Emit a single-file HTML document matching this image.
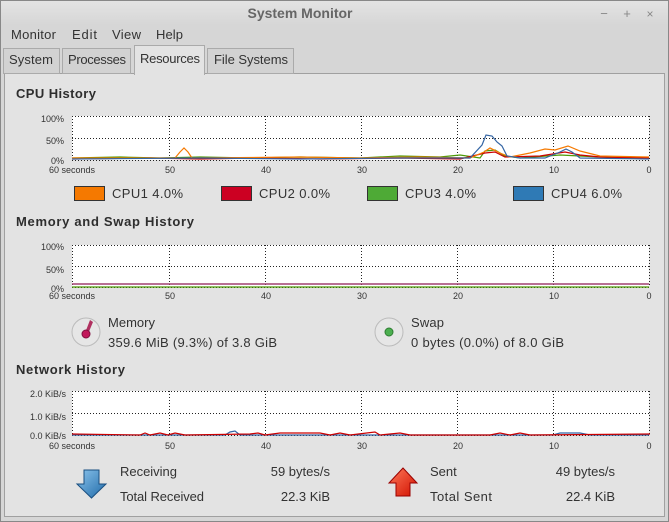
<!DOCTYPE html>
<html><head><meta charset="utf-8"><style>
html,body{margin:0;padding:0;width:669px;height:522px;overflow:hidden;background:#d9d9d9}
svg{display:block;font-family:"Liberation Sans","DejaVu Sans",sans-serif}
</style></head><body>
<svg width="669" height="522" viewBox="0 0 669 522" xmlns="http://www.w3.org/2000/svg" xml:space="preserve">
<defs>
<linearGradient id="tb" x1="0" y1="0" x2="0" y2="1"><stop offset="0" stop-color="#e4e4e4"/><stop offset="1" stop-color="#d6d6d6"/></linearGradient>
<linearGradient id="down" x1="0" y1="0" x2="1" y2="1"><stop offset="0" stop-color="#8cc4ec"/><stop offset="1" stop-color="#1f6aa8"/></linearGradient>
<linearGradient id="up" x1="0" y1="0" x2="1" y2="1"><stop offset="0" stop-color="#ff7a5a"/><stop offset="1" stop-color="#d01000"/></linearGradient>
</defs>
<rect x="0" y="0" width="669" height="522" fill="#d6d6d6"/>
<rect x="0" y="0" width="669" height="25" fill="url(#tb)"/>
<rect x="0.5" y="0.5" width="668" height="521" fill="none" stroke="#888"/>
<text x="300" y="18" font-size="14" font-weight="bold" fill="#666" text-anchor="middle">System Monitor</text>
<text x="604" y="18" font-size="13" fill="#888" text-anchor="middle">−</text>
<text x="627" y="18" font-size="13" fill="#888" text-anchor="middle">+</text>
<text x="650" y="18" font-size="12" fill="#888" text-anchor="middle">×</text>
<g font-size="13" fill="#333">
<text x="11" y="39" textLength="45">Monitor</text><text x="72" y="39" textLength="25">Edit</text><text x="112" y="39" textLength="29">View</text><text x="156" y="39" textLength="27">Help</text>
</g>
<rect x="4.5" y="73.5" width="660" height="443" fill="#e3e3e3" stroke="#a0a0a0"/>
<g font-size="13" fill="#333">
<rect x="3.5" y="48.5" width="56" height="25" fill="#d2d2d2" stroke="#aaa"/><text x="9" y="64" textLength="44">System</text>
<rect x="62.5" y="48.5" width="68" height="25" fill="#d2d2d2" stroke="#aaa"/><text x="68" y="64" textLength="58">Processes</text>
<rect x="134.5" y="45.5" width="70" height="29" fill="#e3e3e3" stroke="#aaa"/><rect x="135" y="72" width="69" height="3" fill="#e3e3e3"/><text x="140" y="63" textLength="60">Resources</text>
<rect x="207.5" y="48.5" width="86" height="25" fill="#d2d2d2" stroke="#aaa"/><text x="214" y="64" textLength="74">File Systems</text>
</g>
<g font-size="13" font-weight="bold" fill="#2e2e2e">
<text x="16" y="98" textLength="80">CPU History</text>
<text x="16" y="226" textLength="178">Memory and Swap History</text>
<text x="16" y="374" textLength="109">Network History</text>
</g>
<g fill="#fff"><rect x="72" y="116" width="577" height="44"/><rect x="72" y="245" width="577" height="42"/><rect x="72" y="391" width="577" height="44"/></g>
<g stroke="#222" stroke-width="1" stroke-dasharray="1,2" fill="none">
<path d="M72 116.5H649M72 138.5H649M72 160.5H649 M72.5 116V160M169.5 116V160M265.5 116V160M361.5 116V160M457.5 116V160M553.5 116V160M649.5 116V160"/>
<path d="M72 245.5H649M72 266.5H649M72 287.5H649 M72.5 245V287M169.5 245V287M265.5 245V287M361.5 245V287M457.5 245V287M553.5 245V287M649.5 245V287"/>
<path d="M72 391.5H649M72 413.5H649M72 435.5H649 M72.5 391V435M169.5 391V435M265.5 391V435M361.5 391V435M457.5 391V435M553.5 391V435M649.5 391V435"/>
</g>
<g fill="none" stroke-width="1.2">
<path stroke="#4e9a06" d="M72 158 L120 157 L160 158 L200 157 L250 158 L300 157 L360 158 L400 156 L440 157 L460 155 L480 158 L485 151 L495 150 L505 156 L520 158 L560 155 L580 156 L600 157 L620 158 L649 158"/>
<path stroke="#cc0000" d="M72 159 L150 158 L200 159 L260 158 L320 159 L400 158 L460 159 L485 153 L495 152 L505 157 L540 156 L565 152 L580 155 L600 157 L649 158"/>
<path stroke="#f57900" d="M72 158 L175 158 L180 152 L184 148 L188 152 L192 158 L300 157 L360 158 L420 157 L470 158 L484 152 L490 148 L500 153 L510 157 L530 153 L545 149 L555 150 L568 146 L580 151 L600 156 L649 157"/>
<path stroke="#3465a4" d="M72 159 L200 158 L300 159 L400 158 L470 158 L482 145 L486 135 L492 136 L497 142 L502 146 L507 156 L520 158 L545 158 L560 152 L566 149 L572 152 L580 158 L649 159"/>
</g>
<path d="M72 284H649" stroke="#a04070" stroke-width="1.5"/>
<path d="M72 287H649" stroke="#4e9a06" stroke-width="1.2"/>
<g fill="none" stroke-width="1.2">
<path stroke="#3465a4" d="M72 435 L225 435 L230 432 L235 431 L240 435 L553 435 L560 433 L580 433 L590 435 L649 435"/>
<path stroke="#cc0000" d="M72 434 L140 435 L145 433 L150 435 L160 433 L168 435 L175 433 L185 435 L250 434 L258 433 L265 435 L280 433 L320 433 L330 435 L340 433 L350 435 L375 432 L380 435 L400 433 L410 435 L450 435 L490 435 L500 433 L510 435 L520 433 L530 435 L650 434"/>
</g>
<g font-size="9" fill="#333" text-anchor="end">
<text x="64" y="122">100%</text><text x="64" y="144">50%</text><text x="64" y="164">0%</text>
<text x="64" y="250">100%</text><text x="64" y="273">50%</text><text x="64" y="292">0%</text>
<text x="66" y="397">2.0 KiB/s</text><text x="66" y="420">1.0 KiB/s</text><text x="66" y="439">0.0 KiB/s</text>
</g>
<g font-size="9" fill="#333" text-anchor="middle">
<text x="72" y="173">60 seconds</text><text x="170" y="173">50</text><text x="266" y="173">40</text><text x="362" y="173">30</text><text x="458" y="173">20</text><text x="554" y="173">10</text><text x="649" y="173">0</text>
<text x="72" y="299">60 seconds</text><text x="170" y="299">50</text><text x="266" y="299">40</text><text x="362" y="299">30</text><text x="458" y="299">20</text><text x="554" y="299">10</text><text x="649" y="299">0</text>
<text x="72" y="449">60 seconds</text><text x="170" y="449">50</text><text x="266" y="449">40</text><text x="362" y="449">30</text><text x="458" y="449">20</text><text x="554" y="449">10</text><text x="649" y="449">0</text>
</g>
<g stroke="#333" stroke-width="1">
<rect x="74.5" y="186.5" width="30" height="14" fill="#f57900"/>
<rect x="221.5" y="186.5" width="30" height="14" fill="#cc0022"/>
<rect x="367.5" y="186.5" width="30" height="14" fill="#4eaa36"/>
<rect x="513.5" y="186.5" width="30" height="14" fill="#2f7ab5"/>
</g>
<g font-size="13" fill="#333">
<text x="112" y="198" textLength="71">CPU1  4.0%</text><text x="259" y="198" textLength="71">CPU2  0.0%</text>
<text x="405" y="198" textLength="71">CPU3  4.0%</text><text x="551" y="198" textLength="71">CPU4  6.0%</text>
</g>
<circle cx="86" cy="332" r="14" fill="#e6e6e6" stroke="#bbb"/>
<path d="M85 333 L90 320 L93 322 L88 334Z" fill="#b03060"/>
<circle cx="86" cy="334" r="4" fill="#c2185b" stroke="#801040"/>
<circle cx="389" cy="332" r="14" fill="#e6e6e6" stroke="#bbb"/>
<circle cx="389" cy="332" r="4" fill="#4caf50" stroke="#2e7d32"/>
<g font-size="13" fill="#333">
<text x="108" y="327" textLength="47">Memory</text><text x="108" y="347" textLength="169">359.6 MiB (9.3%) of 3.8 GiB</text>
<text x="411" y="327" textLength="33">Swap</text><text x="411" y="347" textLength="153">0 bytes (0.0%) of 8.0 GiB</text>
<text x="120" y="476" textLength="57">Receiving</text><text x="120" y="501" textLength="84">Total Received</text>
<text x="330" y="476" text-anchor="end">59 bytes/s</text><text x="330" y="501" text-anchor="end">22.3 KiB</text>
<text x="430" y="476">Sent</text><text x="430" y="501" textLength="62">Total Sent</text>
<text x="615" y="476" text-anchor="end">49 bytes/s</text><text x="615" y="501" text-anchor="end">22.4 KiB</text>
</g>
<path d="M84 470 H99 V484 H106 L91.5 498 L77 484 H84 Z" fill="url(#down)" stroke="#1a4f80"/>
<path d="M396 496 H410 V483 H417 L403 468 L389 483 H396 Z" fill="url(#up)" stroke="#900"/>
</svg>
</body></html>
